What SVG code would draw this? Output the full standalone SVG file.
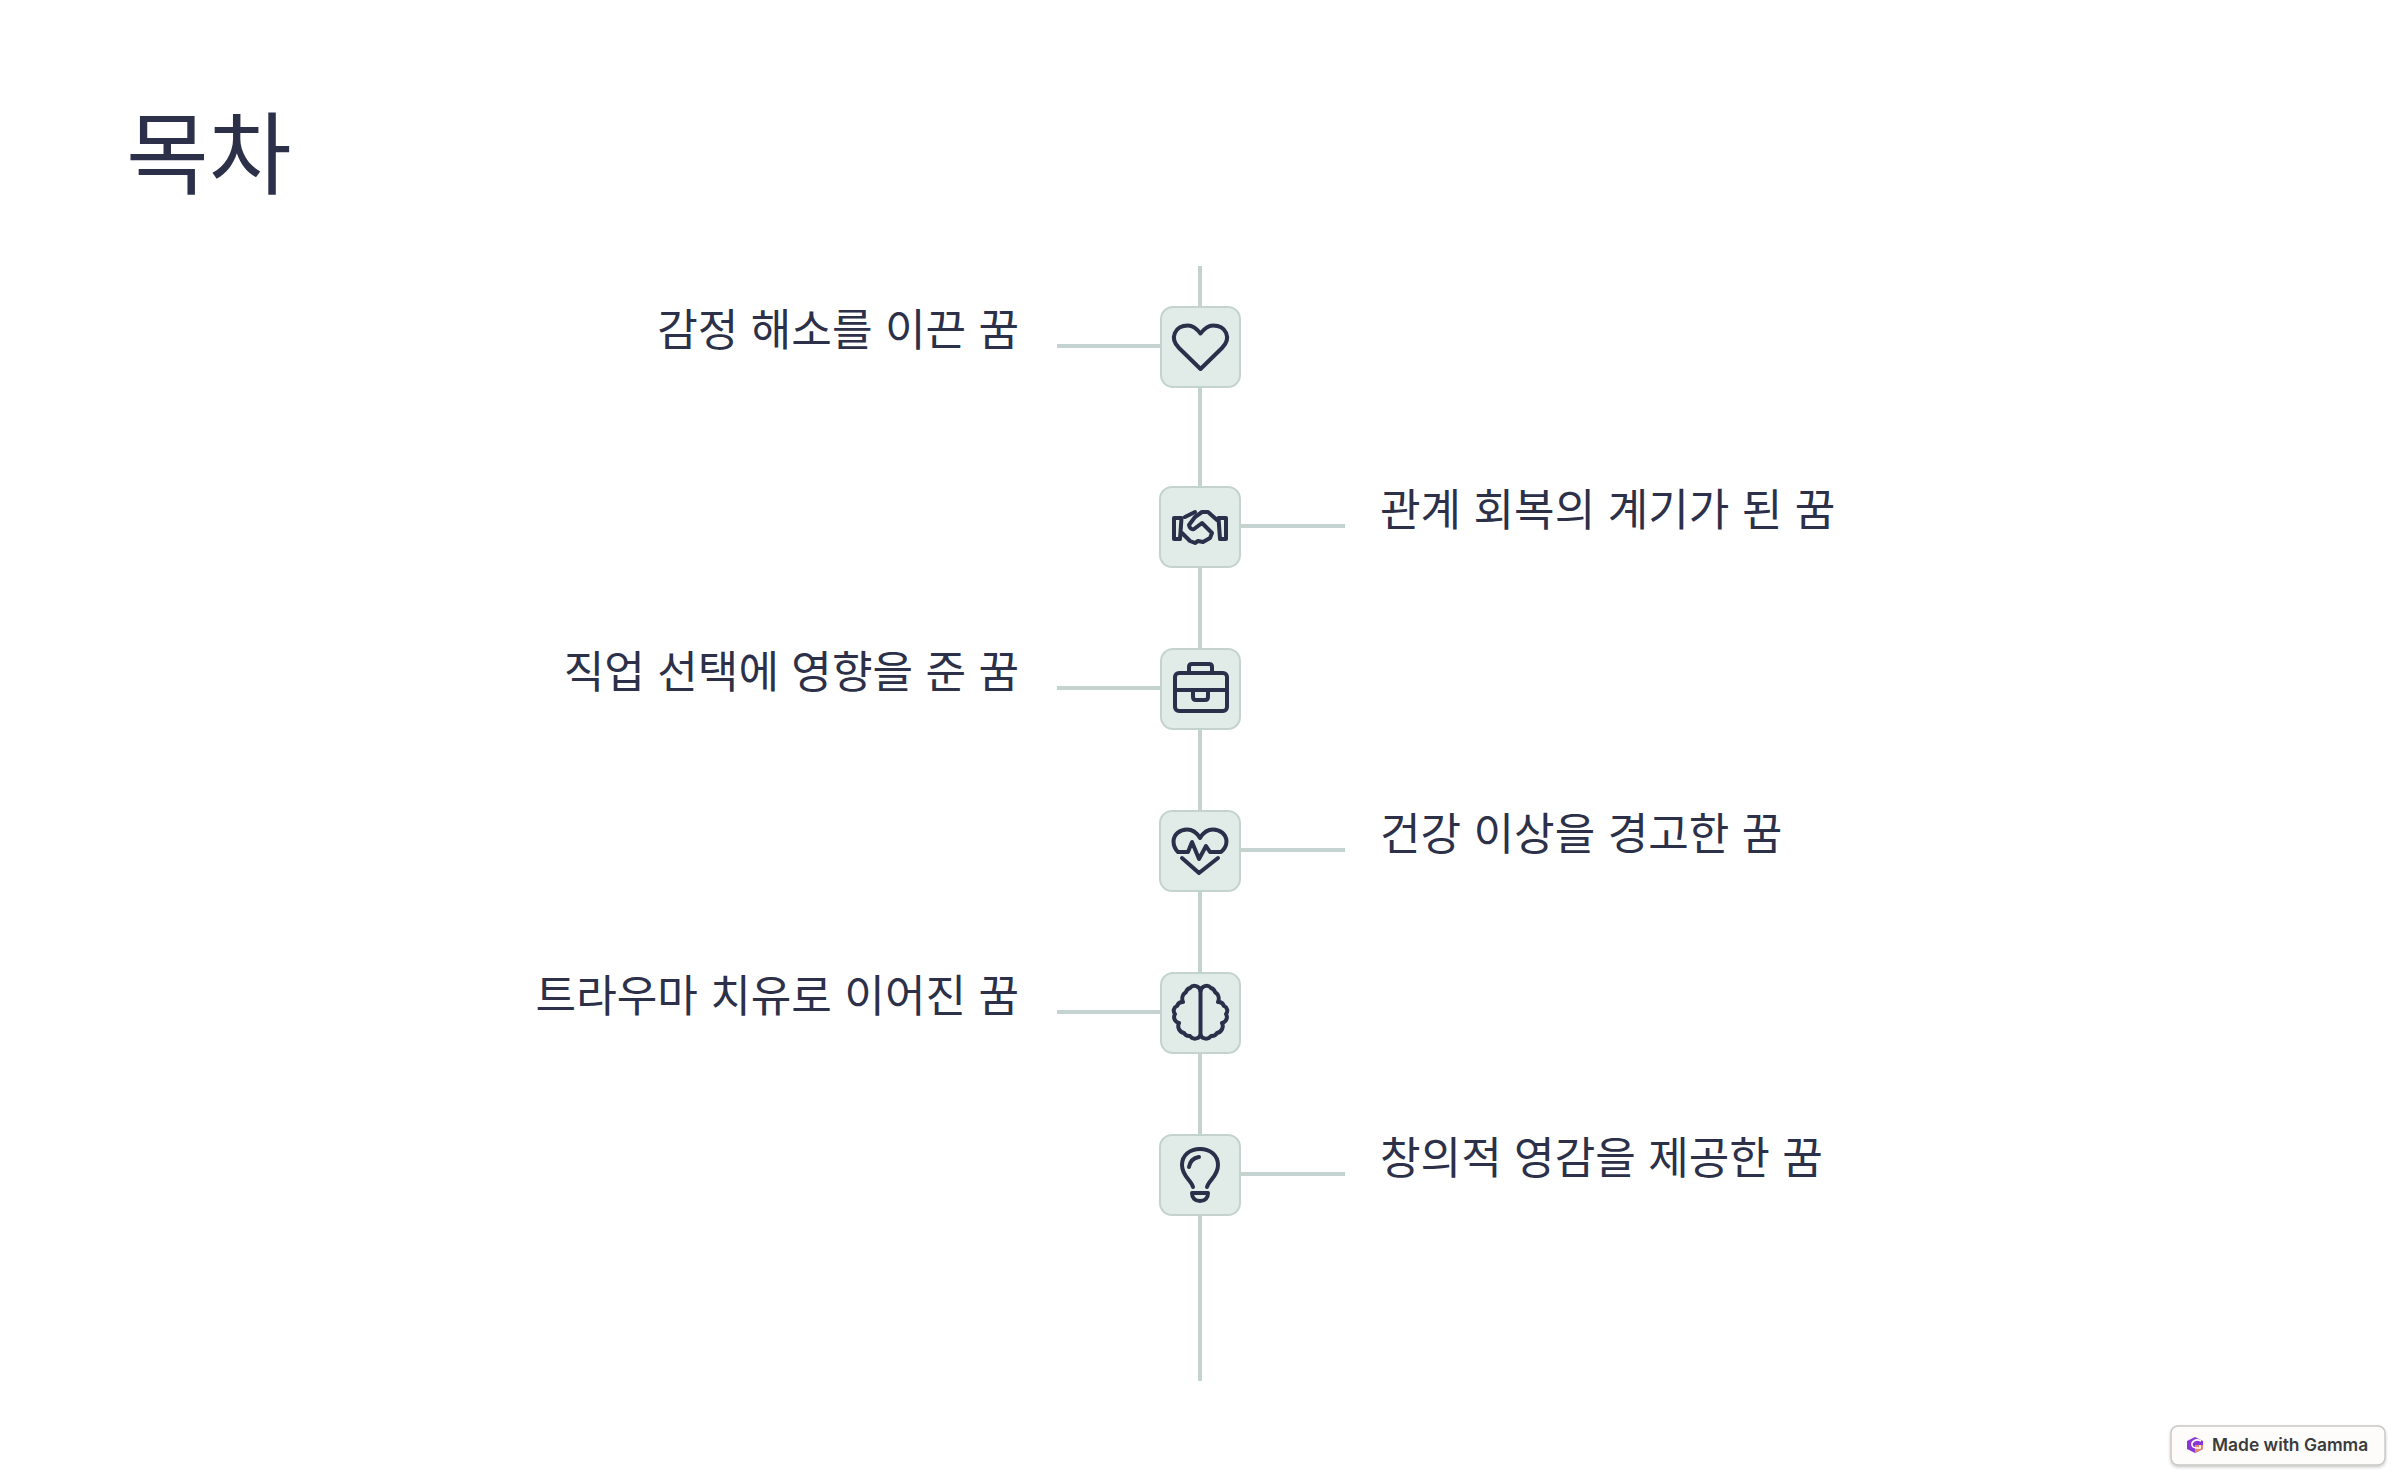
<svg xmlns="http://www.w3.org/2000/svg" width="2400" height="1480" viewBox="0 0 2400 1480">
<defs><filter id="sh" x="-5%" y="-20%" width="110%" height="150%"><feDropShadow dx="0" dy="1.5" stdDeviation="1.5" flood-color="#000" flood-opacity=".22"/></filter></defs>
<style>
.t{font-family:"Inter","Noto Sans CJK KR",sans-serif;fill:#2c3149}
.i{font-size:44.1px}
.l{stroke:#c5d3d0;stroke-width:4;fill:none}
.b{fill:#e1ebe8;stroke:#c5d3d0;stroke-width:2}
.g{fill:none;stroke:#2a2f4a;stroke-width:4;stroke-linecap:round;stroke-linejoin:round}
</style>
<rect width="2400" height="1480" fill="#fff"/>
<text id="title" class="t" x="126" y="187" font-size="90">목차</text>
<g id="connectors">
<path class="l" d="M1200 266V1381"/>
<path class="l" d="M1057 346H1161M1240 526H1345M1057 688H1161M1240 850H1345M1057 1012H1161M1240 1174H1345"/>
</g>
<g id="node1"><rect class="b" x="1161" y="307" width="79" height="80" rx="12"/>
<path class="g" d="M1200.500 369L1179 348C1169 338 1175 325.500 1188 325.500C1193 325.500 1197 329 1200.500 333.500C1204 329 1208 325.500 1213 325.500C1226 325.500 1232 338 1222 348Z"/>
</g>
<text class="t i" x="1019" y="346" text-anchor="end">감정 해소를 이끈 꿈</text>
<g id="node2"><rect class="b" x="1160" y="487" width="80" height="80" rx="12"/>
<path class="g" d="M1174 518H1181.500L1180 539H1174ZM1226 518H1218.500L1220 539H1226ZM1185 517L1195 512M1195 517L1189 525Q1190 530 1194 529L1202 523 1212 533M1195 517L1202 512H1208L1217 520M1182 533L1190 541 1195 543 1198 541 1203 542 1210 538 1212 533"/>
</g>
<text class="t i" x="1380" y="526">관계 회복의 계기가 된 꿈</text>
<g id="node3"><rect class="b" x="1161" y="649" width="79" height="80" rx="12"/>
<rect class="g" x="1175" y="673" width="52" height="38" rx="4"/>
<path class="g" d="M1189 673V667Q1189 664 1192 664H1209Q1212 664 1212 667V673M1175 690H1227M1193 690V697Q1193 700 1196 700H1205Q1208 700 1208 697V690"/>
</g>
<text class="t i" x="1019" y="688" text-anchor="end">직업 선택에 영향을 준 꿈</text>
<g id="node4"><rect class="b" x="1160" y="811" width="80" height="80" rx="12"/>
<path class="g" d="M1188 852H1178C1174 848 1173.500 844 1173.500 841C1174 834 1180 829.500 1187 829.500C1193 829.500 1197 833 1200 838C1203 833 1207 829.500 1213 829.500C1220 829.500 1226 834 1226.500 841C1226.500 844 1226 848 1221 852H1210L1206 846 1199 859 1192 842ZM1182 858L1199 873 1218 858"/>
</g>
<text class="t i" x="1380" y="850">건강 이상을 경고한 꿈</text>
<g id="node5"><rect class="b" x="1161" y="973" width="79" height="80" rx="12"/>
<path class="g" d="M1200.500 991V1035M1200.500 991A6 6 0 0 0 1190 988A6 6 0 0 0 1186 992A8 8 0 0 0 1183 1002A6 6 0 0 0 1177 1006A5 5 0 0 0 1175 1014A6 6 0 0 0 1179 1023A7 7 0 0 0 1184 1033A6 6 0 0 0 1190 1036A6 6 0 0 0 1200.500 1035"/>
<path class="g" d="M1200.500 991A6 6 0 0 1 1211 988A6 6 0 0 1 1215 992A8 8 0 0 1 1218 1002A6 6 0 0 1 1224 1006A5 5 0 0 1 1226 1014A6 6 0 0 1 1222 1023A7 7 0 0 1 1217 1033A6 6 0 0 1 1211 1036A6 6 0 0 1 1200.500 1035"/>
</g>
<text class="t i" x="1019" y="1012" text-anchor="end">트라우마 치유로 이어진 꿈</text>
<g id="node6"><rect class="b" x="1160" y="1135" width="80" height="80" rx="12"/>
<path class="g" d="M1193 1187C1191 1180 1182 1176 1182 1165C1182 1155 1190 1149 1200 1149C1210 1149 1218 1155 1218 1165C1218 1176 1209 1180 1207 1187M1192 1193H1208C1208 1198 1205 1201 1200 1201C1195 1201 1192 1198 1192 1193ZM1189 1167C1190 1161 1193 1158 1199 1157"/>
</g>
<text class="t i" x="1380" y="1174">창의적 영감을 제공한 꿈</text>
<g id="badge">
<rect x="2171" y="1426" width="214" height="39" rx="7" fill="#fdfcfb" stroke="#c9c7c5" stroke-width="1.5" filter="url(#sh)"/>
<path d="M2187 1441L2195 1437 2203 1441V1449L2195 1453 2187 1449Z" fill="#8a35d8"/>
<path d="M2195 1445H2203V1449L2195 1453Z" fill="#e98a63"/>
<path d="M2201 1441Q2195 1438 2192 1443Q2191 1448 2197 1448H2200V1445" fill="none" stroke="#fff" stroke-width="1.6"/>
<text x="2212" y="1451" font-family="Inter,sans-serif" font-size="17.400" font-weight="600" fill="#3b3b3b">Made with Gamma</text>
</g>
</svg>
